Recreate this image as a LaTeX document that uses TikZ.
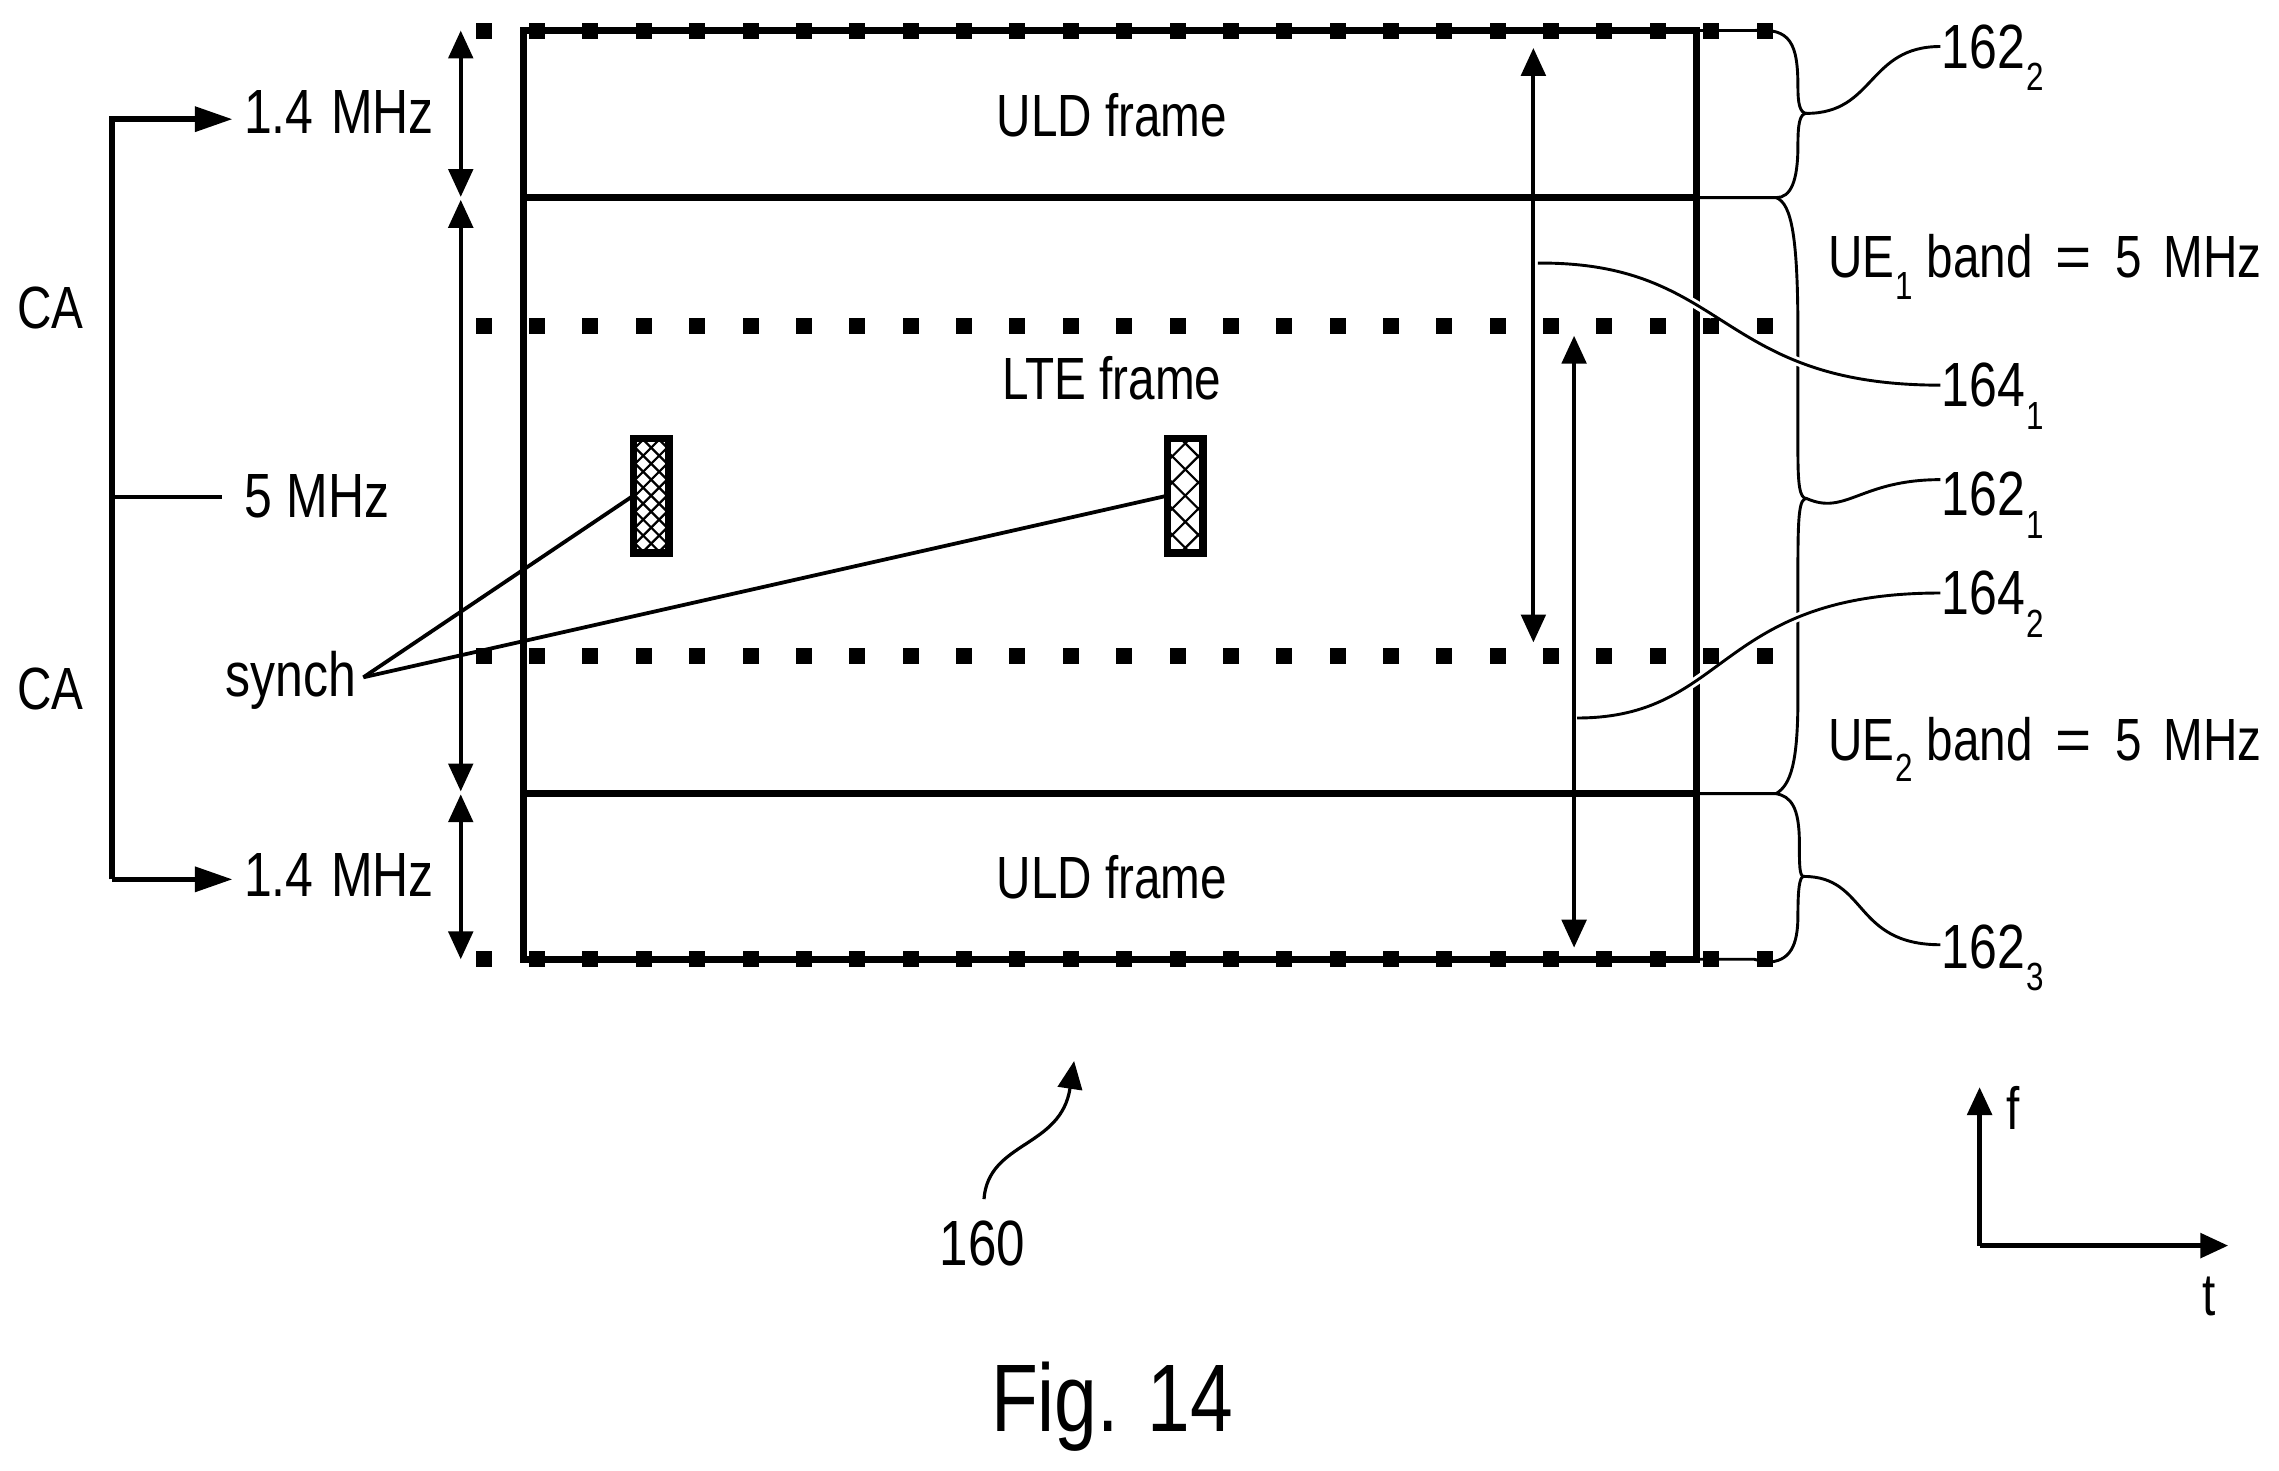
\documentclass[tikz,border=0pt]{standalone}
\usepackage{fontspec}
\setmainfont[FakeStretch=0.8]{Liberation Sans}
\usetikzlibrary{arrows.meta}
\newcommand{\sbs}[1]{\hspace{0.4pt}\raisebox{-0.36em}{\fontsize{13.5}{14}\selectfont #1}}
\newcommand{\wsp}{\hspace{7.5pt}}
\newcommand{\eqs}{\hspace{8pt}\scalebox{1.3}[1]{=}\hspace{8pt}}
\tikzset{
 x=0.5pt,y=-0.5pt,
 lbl/.style={inner sep=0pt,outer sep=0pt,font=\fontsize{20.5}{22}\selectfont},
 lleft/.style={lbl,anchor=base west},
 lmid/.style={lbl,anchor=base},
 numl/.style={lleft,font=\fontsize{21.5}{22}\selectfont},
 frameln/.style={line width=2.4pt},
 thinln/.style={line width=1pt},
 dimar/.style={line width=1.4pt,{Triangle[width=8.4pt,length=9.6pt]}-{Triangle[width=8.4pt,length=9.6pt]}},
 halo/.style={white,line width=3pt},
 sbox/.style={line width=2.6pt,draw,inner sep=0pt,outer sep=0pt,minimum width=12.2pt,minimum height=39.4pt},
}
\begin{document}
\begin{tikzpicture}
\useasboundingbox (0,0) rectangle (1568,1011.4);
% dotted rows
\foreach \y in {21,224.5,451,660}{
  \fill (333-5.5,\y-5.5) rectangle ++(11,11);
  \foreach \i in {0,...,23}{
    \fill (369.5+36.72*\i-5.5,\y-5.5) rectangle ++(11,11);
  }
}
% frame
\coordinate (tl) at (360,21); \coordinate (tr) at (1167,21);
\coordinate (bl) at (360,660); \coordinate (br) at (1167,660);
\coordinate (ml1) at (360,136); \coordinate (mr1) at (1167,136);
\coordinate (ml2) at (360,546); \coordinate (mr2) at (1167,546);
\draw[frameln] (tl) -- (tr) -- (br) -- (bl) -- cycle;
\draw[frameln] (ml1) -- (mr1);
\draw[frameln] (ml2) -- (mr2);
% frame labels
\node[lmid] (uld1) at (765,94) {ULD frame};
\node[lmid] (lte) at (765,275) {LTE frame};
\node[lmid] (uld2) at (765,618) {ULD frame};
% sync boxes
\node[sbox] (s1) at (448,341) {};
\node[sbox] (s2) at (815.5,341) {};
\begin{scope}
 \clip (s1.south west) rectangle (s1.north east);
 \foreach \k in {-12,...,12}{
  \draw[line width=0.75pt] (448-30,341+\k*11-30) -- ++(60,60);
  \draw[line width=0.75pt] (448-30,341+\k*11+30) -- ++(60,-60);
 }
\end{scope}
\begin{scope}
 \clip (s2.south west) rectangle (s2.north east);
 \foreach \k in {-8,...,8}{
  \draw[line width=0.75pt] (815.5-30,341+\k*18-30) -- ++(60,60);
  \draw[line width=0.75pt] (815.5-30,341+\k*18+30) -- ++(60,-60);
 }
\end{scope}
\node[sbox] at (s1) {};
\node[sbox] at (s2) {};
% synch
\node[numl] (syn) at (155,479) {synch};
\coordinate (st) at (250,466);
\draw[line width=1.3pt] (st) -- (s1.west);
\draw[line width=1.3pt] (st) -- (s2.west);
% dimension arrows at left
\coordinate (a0) at (317,21); \coordinate (a1) at (317,135.5);
\coordinate (a2) at (317,137.5); \coordinate (a3) at (317,544.5);
\coordinate (a4) at (317,546.5); \coordinate (a5) at (317,660);
\draw[dimar] (a0) -- (a1);
\draw[dimar] (a2) -- (a3);
\draw[dimar] (a4) -- (a5);
% inner arrows
\coordinate (i0) at (1055,33); \coordinate (i1) at (1055,442);
\coordinate (j0) at (1083,231); \coordinate (j1) at (1083,652);
\draw[dimar] (i0) -- (i1);
\draw[dimar] (j0) -- (j1);
% braces
\coordinate (bt) at (1207,21);
\coordinate (tip2) at (1243,78);
\coordinate (tip1) at (1243,343);
\coordinate (tip3) at (1241,603);
\coordinate (e1) at (1222,136);
\coordinate (e2) at (1222,546);
\coordinate (e3) at (1207,660);
\draw[thinln] (tr) -- (bt) .. controls (1232,19) and (1237,30) .. (1237,60) .. controls (1237,70) and (1238,78) .. (tip2);
\draw[thinln] (tip2) .. controls (1238,78) and (1237,86) .. (1237,100) .. controls (1237,125) and (1232,136) .. (e1) -- (mr1);
\draw[thinln] (e1) .. controls (1233,140) and (1237,165) .. (1237,230) -- (1237,310) .. controls (1237,333) and (1238,343) .. (tip1);
\draw[thinln] (tip1) .. controls (1238,343) and (1237,353) .. (1237,390) -- (1237,480) .. controls (1237,525) and (1232,540) .. (e2) -- (mr2);
\draw[thinln] (e2) .. controls (1232,548) and (1238,555) .. (1238,580) .. controls (1238,595) and (1238,603) .. (tip3);
\draw[thinln] (tip3) .. controls (1238,603) and (1237,612) .. (1237,630) .. controls (1237,650) and (1232,662) .. (1215,662) -- (e3) -- (br);
% ref labels
\node[numl] (r2) at (1336,47) {162\sbs{2}};
\node[numl] (r41) at (1336,280) {164\sbs{1}};
\node[numl] (r1) at (1336,355) {162\sbs{1}};
\node[numl] (r42) at (1336,423) {164\sbs{2}};
\node[numl] (r3) at (1336,666) {162\sbs{3}};
\draw[thinln] (tip2) .. controls (1290,78) and (1285,32) .. (1335,32);
\draw[thinln] (tip1) .. controls (1270,355) and (1280,330) .. (1335,330);
\draw[thinln] (tip3) .. controls (1285,603) and (1275,650) .. (1335,650);
\coordinate (l1) at (1058,181);
\coordinate (l1e) at (1335,265);
\coordinate (l2) at (1085,494);
\coordinate (l2e) at (1335,408);
\begin{scope}
 \clip (1155,150) rectangle (1177,520) (1226,150) rectangle (1248,520);
 \draw[halo] (l1) .. controls (1190,180) and (1180,265) .. (l1e);
 \draw[halo] (l2) .. controls (1190,494) and (1180,408) .. (l2e);
\end{scope}
\draw[thinln] (l1) .. controls (1190,180) and (1180,265) .. (l1e);
\draw[thinln] (l2) .. controls (1190,494) and (1180,408) .. (l2e);
\node[lleft] (ue1) at (1258,191) {UE\sbs{1} band\eqs 5\wsp MHz};
\node[lleft] (ue2) at (1258,523) {UE\sbs{2} band\eqs 5\wsp MHz};
% left side
\node[numl] (f1) at (168,92) {1.4\hspace{6pt}MHz};
\node[numl] (f5) at (168,356) {5\hspace{5pt}MHz};
\node[numl] (f3) at (168,617) {1.4\hspace{6pt}MHz};
\node[lleft] (ca1) at (12,226) {CA};
\node[lleft] (ca2) at (12,488) {CA};
\coordinate (c1) at (77,82);
\coordinate (c2) at (77,605);
\coordinate (c3) at (77,342);
\coordinate (x1) at (160,82);
\draw[line width=1.9pt,-{Triangle[width=8.4pt,length=13pt]}] (c2) -- (c1) -- (x1);
\draw[line width=1.9pt,-{Triangle[width=8.4pt,length=13pt]}] (c2) -- (c2 -| x1);
\draw[line width=1.2pt] (c3) -- (153,342);
% 160
\node[lmid,font=\fontsize{22}{22}\selectfont] (n160) at (676,871) {160};
\coordinate (p160) at (739,730);
\draw[line width=1.1pt,-{Triangle[width=8.4pt,length=9.6pt]}] (677,825) .. controls (680,785) and (730,790) .. (p160);
% axes
\coordinate (o) at (1362,857); \coordinate (fy) at (1362,748); \coordinate (tx) at (1533,857);
\draw[line width=1.6pt,-{Triangle[width=8.4pt,length=9.6pt]}] (o) -- (fy);
\draw[line width=1.6pt,-{Triangle[width=8.4pt,length=9.6pt]}] (o) -- (tx);
\node[lmid] (lf) at (1385,777) {f};
\node[lmid] (lt) at (1520,905) {t};
\node[lbl,anchor=base,font=\fontsize{33}{36}\selectfont] (fig) at (765,985) {Fig. 14};
\end{tikzpicture}
\end{document}
